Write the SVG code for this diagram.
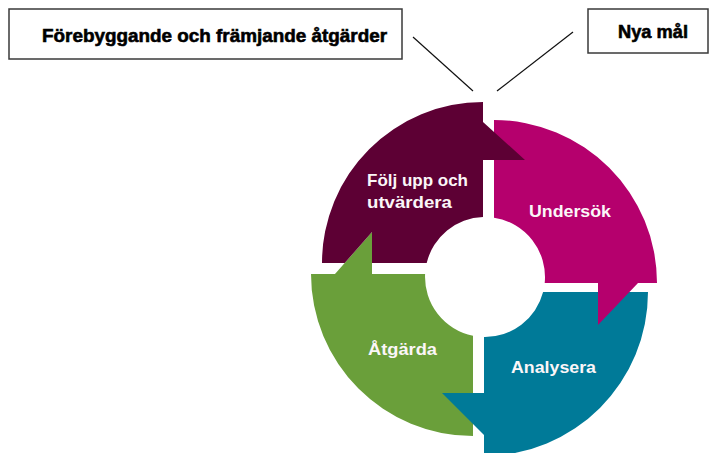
<svg xmlns="http://www.w3.org/2000/svg" width="709" height="453" viewBox="0 0 709 453">
<style>
.box{fill:#fff;stroke:#3a3a3a;stroke-width:1.5}
.btxt{font-family:"Liberation Sans",Arial,sans-serif;font-weight:bold;font-size:19px;fill:#000;stroke:#000;stroke-width:0.6}
.rtxt{font-family:"Liberation Sans",Arial,sans-serif;font-weight:bold;font-size:17px;fill:#fbf6f8}
.conn{stroke:#111;stroke-width:1.2;fill:none}
</style>
<rect width="709" height="453" fill="#fff"/>
<g id="box-forebyggande">
<rect class="box" x="9" y="9" width="393" height="50"/>
<text class="btxt" x="42" y="42" textLength="345" lengthAdjust="spacingAndGlyphs">Förebyggande och främjande åtgärder</text>
</g>
<g id="box-nya-mal">
<rect class="box" x="588" y="9" width="120" height="44"/>
<text class="btxt" x="618" y="38" textLength="70" lengthAdjust="spacingAndGlyphs">Nya mål</text>
</g>
<g id="connectors">
<line class="conn" x1="413" y1="37" x2="473" y2="91"/>
<line class="conn" x1="573" y1="32" x2="497" y2="91"/>
</g>
<g id="atgarda">
<path fill="#6a9f3a" d="M473,436 A162,162 0 0 1 311,274 L335,274 L372,232 L372,274 L425.1,274 A60,60 0 0 0 473,335.8 Z"/>
<text class="rtxt" x="368" y="355" textLength="69" lengthAdjust="spacingAndGlyphs">Åtgärda</text>
</g>
<g id="analysera">
<path fill="#007a98" d="M648,292 A164,164 0 0 1 484,456 L484,435 L442,393 L484,393 L484,337 A60,60 0 0 0 543.1,292 Z"/>
<text class="rtxt" x="511" y="373" textLength="85" lengthAdjust="spacingAndGlyphs">Analysera</text>
</g>
<g id="undersok">
<path fill="#b5006d" d="M494,120 A163,163 0 0 1 657,283 L638,283 L598,325 L598,283 L544.7,283 A60,60 0 0 0 494,217.7 Z"/>
<text class="rtxt" x="529" y="217" textLength="82" lengthAdjust="spacingAndGlyphs">Undersök</text>
</g>
<g id="folj-upp">
<path fill="#5d0034" d="M322,263 A161,161 0 0 1 483,102 L483,122 L525,160 L483,160 L483,217 A60,60 0 0 0 426.7,263 L372,263 L372,232 L344.7,263 Z"/>
<text class="rtxt" x="367" y="186" textLength="101" lengthAdjust="spacingAndGlyphs">Följ upp och</text>
<text class="rtxt" x="367" y="208" textLength="85" lengthAdjust="spacingAndGlyphs">utvärdera</text>
</g>
</svg>
